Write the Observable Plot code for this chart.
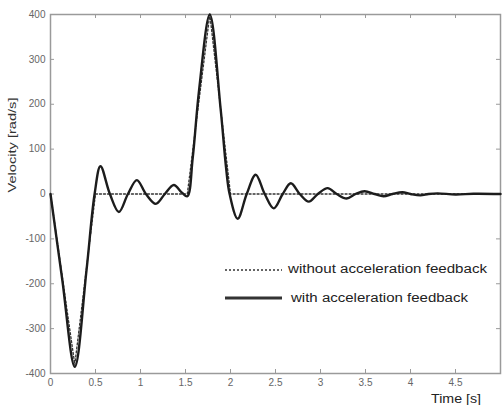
<!DOCTYPE html>
<html><head><meta charset="utf-8">
<script src="https://cdn.jsdelivr.net/npm/d3@7"></script>
<script src="https://cdn.jsdelivr.net/npm/@observablehq/plot@0.6"></script>
<style>
body{margin:0;background:#fff;}
#wrap{position:relative;width:502px;height:405px;font-family:"Liberation Sans",Arial,sans-serif;}
#wrap > svg{position:absolute;left:0;top:0;}
</style></head><body><div id="wrap"></div>
<script>
// with acceleration feedback (solid)
const timeWith = [0, 0.13, 0.27, 0.40, 0.49, 0.555, 0.66, 0.76, 0.86, 0.96, 1.06, 1.17, 1.27, 1.37, 1.46, 1.52, 1.58, 1.65, 1.77, 1.89, 1.95, 1.99, 2.08, 2.18, 2.28, 2.38, 2.48, 2.58, 2.67, 2.77, 2.87, 2.97, 3.08, 3.18, 3.29, 3.39, 3.49, 3.60, 3.70, 3.80, 3.91, 4.00, 4.11, 4.20, 4.30, 4.50, 4.70, 5.00];
const velWith  = [0, -190, -385, -170, 0, 62, 0, -40, 0, 31, 0, -22, 0, 20, 3, -5, 80, 230, 400, 190, 60, 0, -55, 0, 43, 0, -32, 0, 24, 0, -17, 0, 13, 0, -10, 0, 6, 0, -5, 0, 4, 0, -3, 0, 1.5, -1, 0.5, 0];
// without acceleration feedback (dotted)
const timeWithout = [0, 0.27, 0.50, 1.52, 1.77, 2.00, 5.00];
const velWithout  = [0, -380, 0, 0, 400, 0, 0];

const xTicks = [0, 0.5, 1, 1.5, 2, 2.5, 3, 3.5, 4, 4.5];
const xTickLabels = ["0", "0.5", "1", "1.5", "2", "2.5", "3", "3.5", "4", "4.5"];
const yTicks = [-400, -300, -200, -100, 0, 100, 200, 300, 400];
const yTickLabels = ["-400", "-300", "-200", "-100", "0", "100", "200", "300", "400"];
const seriesNames = ["without acceleration feedback", "with acceleration feedback"];
const xTitle = "Time [s]";
const yTitle = "Velocity [rad/s]";

const withData = timeWith.map((t, i) => ({t, v: velWith[i]}));
const withoutData = timeWithout.map((t, i) => ({t, v: velWithout[i]}));

const axisColor = "#9a9a9a";
const chart = Plot.plot({
  width: 502, height: 405,
  marginLeft: 50, marginRight: 2, marginTop: 14, marginBottom: 32,
  x: {domain: [0, 5]},
  y: {domain: [-400, 400]},
  style: {fontFamily: '"Liberation Sans", Arial, sans-serif', fontSize: "10px", color: "#555", background: "transparent"},
  marks: [
    Plot.frame({stroke: axisColor, strokeWidth: 1.5}),
    Plot.tickX(xTicks, {x: d => d, insetTop: 355, stroke: axisColor}),
    Plot.tickX(xTicks, {x: d => d, insetBottom: 355, stroke: axisColor}),
    Plot.tickY(yTicks, {y: d => d, insetRight: 446, stroke: axisColor}),
    Plot.tickY(yTicks, {y: d => d, insetLeft: 446, stroke: axisColor}),
    Plot.axisX(xTicks, {tickSize: 0, tickPadding: 5, tickFormat: d => xTickLabels[xTicks.indexOf(d)], label: null, fill: "#666"}),
    Plot.axisY(yTicks, {tickSize: 0, tickPadding: 5, tickFormat: d => yTickLabels[yTicks.indexOf(d)], label: null, fill: "#666"}),
    Plot.line(withoutData, {x: "t", y: "v", stroke: "#333", strokeWidth: 1.3, strokeDasharray: "2,2"}),
    Plot.line(withData, {x: "t", y: "v", curve: "catmull-rom", stroke: "#1c1c1c", strokeWidth: 2.4})
  ]
});
const wrap = document.getElementById("wrap");
wrap.appendChild(chart);

const ns = "http://www.w3.org/2000/svg";
const ov = document.createElementNS(ns, "svg");
ov.setAttribute("width", 502); ov.setAttribute("height", 405);
ov.style.fontFamily = '"Liberation Sans", Arial, sans-serif';
function el(tag, attrs, text) {
  const e = document.createElementNS(ns, tag);
  for (const k in attrs) e.setAttribute(k, attrs[k]);
  if (text != null) e.textContent = text;
  ov.appendChild(e);
  return e;
}
el("line", {x1: 225, x2: 282, y1: 270, y2: 270, stroke: "#333", "stroke-width": 1.5, "stroke-dasharray": "2,2"});
el("text", {x: 288, y: 273, "font-size": 12, fill: "#222", textLength: 199, lengthAdjust: "spacingAndGlyphs"}, seriesNames[0]);
el("line", {x1: 225, x2: 282, y1: 298, y2: 298, stroke: "#333", "stroke-width": 3});
el("text", {x: 291, y: 302, "font-size": 12, fill: "#222", textLength: 177, lengthAdjust: "spacingAndGlyphs"}, seriesNames[1]);
el("text", {x: 431, y: 403, "font-size": 12, fill: "#222", textLength: 50, lengthAdjust: "spacingAndGlyphs"}, xTitle);
el("text", {x: 0, y: 0, "font-size": 11, fill: "#333", "text-anchor": "middle", transform: "translate(16,145) rotate(-90)", textLength: 95, lengthAdjust: "spacingAndGlyphs"}, yTitle);
wrap.appendChild(ov);
</script>
</body></html>
